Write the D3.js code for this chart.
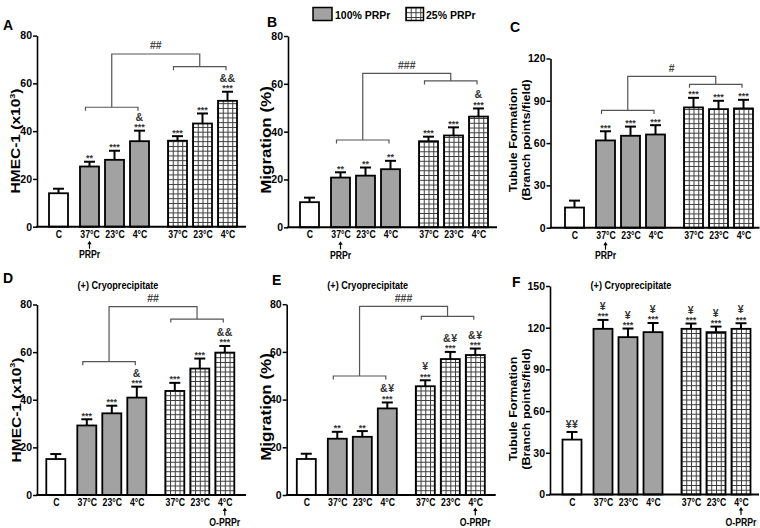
<!DOCTYPE html>
<html><head><meta charset="utf-8">
<script src="https://cdn.jsdelivr.net/npm/d3@7"></script>
<style>
body{margin:0;background:#fff}
text{font-family:"Liberation Sans",Arial,Helvetica,sans-serif;font-weight:bold}
</style>
</head><body>
<svg id="chart" width="760" height="528"></svg>
<script>
// ---------------- data ----------------
const categories = ["C","37°C","23°C","4°C","37°C","23°C","4°C"];
const groups = ["ctrl","p100","p100","p100","p25","p25","p25"];
const legendLabels = ["100% PRPr","25% PRPr"];
const ticksHMEC = [0,20,40,60,80];
const ticksMig = [0,20,40,60,80];
const ticksTubC = [0,30,60,90,120];
const ticksTubF = [0,30,60,90,120,150];

const valuesA = [14.0, 25.2, 28.0, 35.8, 36.0, 43.2, 52.7];
const errorsA = [1.9, 2.0, 3.8, 4.4, 1.9, 4.2, 3.8];
const starsA  = ["", "**", "***", "***", "***", "***", "***"];
const symsA   = ["", "", "", "&", "", "", "&&"];
const bracketA = ["##", 50, 67, 72.3];

const valuesB = [10.5, 20.8, 21.6, 24.3, 36.0, 38.4, 46.3];
const errorsB = [1.9, 2.2, 3.4, 3.5, 1.9, 3.4, 3.4];
const starsB  = ["", "**", "**", "**", "***", "***", "***"];
const symsB   = ["", "", "", "", "", "", "&"];
const bracketB = ["###", 36.5, 61.2, 64.4];

const valuesC = [14.3, 61.9, 65.2, 66.1, 85.3, 84.1, 84.6];
const errorsC = [4.9, 6.5, 6.5, 6.6, 6.8, 5.9, 6.1];
const starsC  = ["", "***", "***", "***", "***", "***", "***"];
const symsC   = ["", "", "", "", "", "", ""];
const bracketC = ["#", 83.2, 101.7, 107.3];

const valuesD = [15.1, 29.2, 34.3, 40.9, 43.7, 53.1, 59.8];
const errorsD = [2.1, 2.6, 3.2, 4.6, 3.4, 4.2, 2.8];
const starsD  = ["", "***", "***", "***", "***", "***", "***"];
const symsD   = ["", "", "", "&", "", "", "&&"];
const bracketD = ["##", 56, 73.9, 79.1];

const valuesE = [15.1, 23.6, 24.4, 36.3, 45.6, 57.0, 58.7];
const errorsE = [2.2, 2.9, 2.4, 2.5, 2.5, 3.0, 2.7];
const starsE  = ["", "**", "**", "***", "***", "***", "***"];
const symsE   = ["", "", "", "&¥", "¥", "&¥", "&¥"];
const bracketE = ["###", 49.9, 74.9, 79.1];

const valuesF = [39.5, 119.2, 113.2, 116.8, 119.2, 116.8, 119.2];
const errorsF = [5.5, 6.4, 6.2, 6.6, 3.8, 4.0, 4.0];
const starsF  = ["", "***", "***", "***", "***", "***", "***"];
const symsF   = ["¥¥", "¥", "¥", "¥", "¥", "¥", "¥"];
const bracketF = null;

// ---------------- layout ----------------
const SX = 0.87;
const svg = d3.select("#chart");
const defs = svg.append("defs");

const panels = [
  {key:"A", v:valuesA, e:errorsA, s:starsA, m:symsA, br:bracketA, ticks:ticksHMEC, yMax:80,
   x0:37, c0:21.5, yb:226.7, yt:35.6, letter:[3,30], title:["HMEC-1 (x10","3",")"], tfs:15.5, tx:[20.3], ty:141, note:"PRPr", noteIdx:1, top:true},
  {key:"B", v:valuesB, e:errorsB, s:starsB, m:symsB, br:bracketB, ticks:ticksMig, yMax:80,
   x0:288, c0:21.5, yb:227.3, yt:36, letter:[267,27], title:["Migration (%)"], tfs:17, tx:[271.3], ty:140, note:"PRPr", noteIdx:1, top:true},
  {key:"C", v:valuesC, e:errorsC, s:starsC, m:symsC, br:bracketC, ticks:ticksTubC, yMax:120,
   x0:550.5, c0:24, yb:227.7, yt:58.5, letter:[510,32], title:["Tubule Formation","(Branch points/field)"], tfs:12.5, tx:[517,530], ty:140, note:"PRPr", noteIdx:1, top:true},
  {key:"D", v:valuesD, e:errorsD, s:starsD, m:symsD, br:bracketD, ticks:ticksHMEC, yMax:80,
   x0:37, c0:18.8, yb:495, yt:304.5, letter:[3,283], title:["HMEC-1 (x10","3",")"], tfs:15.5, tx:[20.5], ty:410, note:"O-PRPr", noteIdx:6, top:false},
  {key:"E", v:valuesE, e:errorsE, s:starsE, m:symsE, br:bracketE, ticks:ticksMig, yMax:80,
   x0:286.7, c0:19.6, yb:495, yt:304.2, letter:[272,285], title:["Migration (%)"], tfs:17, tx:[271], ty:407, note:"O-PRPr", noteIdx:6, top:false},
  {key:"F", v:valuesF, e:errorsF, s:starsF, m:symsF, br:bracketF, ticks:ticksTubF, yMax:150,
   x0:550, c0:22, yb:494.5, yt:286, letter:[512,287], title:["Tubule Formation","(Branch points/field)"], tfs:12.5, tx:[517,530], ty:409, note:"O-PRPr", noteIdx:6, top:false}
];

const slot = i => i === 0 ? 0 : (i <= 3 ? i + 0.24 : i + 0.76);
const BW = 19, CELL = 4.75;
const GRAY = "#a2a2a2";

function makeHatch(id, x, y){
  const p = defs.append("pattern").attr("id", id).attr("patternUnits","userSpaceOnUse")
    .attr("x", x).attr("y", y).attr("width", CELL).attr("height", CELL);
  p.append("rect").attr("width", CELL).attr("height", CELL).attr("fill","#fff");
  p.append("path").attr("d", `M0,0.5H${CELL}M0.5,0V${CELL}`).attr("stroke","#3a3a3a").attr("stroke-width",1);
}

function label(g, x, y, str, size, opts={}){
  return g.append("text")
    .attr("transform", `translate(${x},${y}) scale(${opts.sx ?? SX},1)`)
    .attr("text-anchor", opts.anchor || "middle")
    .attr("fill", opts.fill || "#000")
    .style("font-size", size + "px")
    .text(str);
}

panels.forEach(P => {
  const g = svg.append("g");
  const y = d3.scaleLinear().domain([0, P.yMax]).range([P.yb, P.yt]);
  const xs = d3.scaleLinear().domain([0, slot(6)]).range([P.x0 + P.c0, P.x0 + P.c0 + 169]);
  const idx = d3.range(categories.length);

  // bars
  idx.forEach(i => {
    const cx = xs(slot(i));
    const left = cx - BW/2;
    let fill = "#fff";
    if (groups[i] === "p100") fill = GRAY;
    if (groups[i] === "p25") { const id = `h${P.key}${i}`; makeHatch(id, left, P.yb); fill = `url(#${id})`; }
    g.append("rect").attr("x", left).attr("y", y(P.v[i])).attr("width", BW)
      .attr("height", y(0) - y(P.v[i])).attr("fill", fill)
      .attr("stroke", "#000").attr("stroke-width", 1.8);
    // error bars
    const et = y(P.v[i] + P.e[i]);
    g.append("line").attr("x1", cx).attr("x2", cx).attr("y1", y(P.v[i])).attr("y2", et)
      .attr("stroke","#000").attr("stroke-width",2);
    g.append("line").attr("x1", cx - 5.5).attr("x2", cx + 5.5).attr("y1", et).attr("y2", et)
      .attr("stroke","#000").attr("stroke-width",2);
    // annotations
    if (P.s[i]) label(g, cx, et - 0.5, P.s[i], 9, {fill:"#333", sx:1});
    if (P.m[i]) label(g, cx, et - (P.s[i] ? 10 : 4), P.m[i], 10.5, {fill:"#333", sx:1}).attr("letter-spacing", 0.5);
  });

  // y axis
  const ya = g.append("g").attr("transform", `translate(${P.x0},0)`)
    .call(d3.axisLeft(y).tickValues(P.ticks).tickSize(4).tickSizeOuter(0).tickPadding(1));
  ya.select(".domain").attr("stroke-width", 1.6);
  ya.selectAll(".tick line").attr("stroke-width", 1.5);
  ya.selectAll("text").style("font-size", "10.5px").style("font-family", "'Liberation Sans',Arial,sans-serif").style("font-weight","bold");

  // x axis
  const xa = g.append("g").attr("transform", `translate(0,${P.yb})`)
    .call(d3.axisBottom(xs).tickValues(idx.map(slot)).tickFormat((d, i) => categories[i]).tickSize(0).tickPadding(4));
  xa.select(".domain").remove();
  xa.selectAll("text").style("font-size","10px").style("font-family","'Liberation Sans',Arial,sans-serif")
    .style("font-weight","bold").attr("transform", `scale(${SX},1)`);
  g.append("line").attr("x1", P.x0 - 0.8).attr("x2", P.x0 + 209).attr("y1", P.yb).attr("y2", P.yb)
    .attr("stroke","#000").attr("stroke-width",2);

  // arrow + note
  const ax = xs(slot(P.noteIdx));
  const a0 = P.top ? 14 : 12.5, a1 = P.top ? 22 : 20.5;
  g.append("path").attr("d", `M${ax},${P.yb + a1}V${P.yb + a0 + 2}`).attr("stroke","#000").attr("stroke-width",1.2);
  g.append("path").attr("d", `M${ax - 2.2},${P.yb + a0 + 3.5}L${ax},${P.yb + a0}L${ax + 2.2},${P.yb + a0 + 3.5}Z`).attr("fill","#000");
  label(g, ax, P.yb + (P.top ? 31.5 : 31), P.note, 10);

  // brackets
  if (P.br) {
    const [lab, lv, rv, tv] = P.br;
    const xa1 = xs(slot(1)) - 4, xb1 = xs(slot(3)) - 1.5;
    const xa2 = xs(slot(4)) - 4, xb2 = xs(slot(6)) - 1.5;
    const m1 = (xa1 + xb1) / 2, m2 = (xa2 + xb2) / 2;
    const st = {stroke:"#555", "stroke-width":1.2, fill:"none"};
    const bp = [
      `M${xa1},${y(lv) + 3.5}V${y(lv)}H${xb1}V${y(lv) + 3.5}`,
      `M${xa2},${y(rv) + 3.5}V${y(rv)}H${xb2}V${y(rv) + 3.5}`,
      `M${m1},${y(lv)}V${y(tv)}H${m2}V${y(rv)}`
    ];
    bp.forEach(d => { const p = g.append("path").attr("d", d); Object.entries(st).forEach(([k, v]) => p.attr(k, v)); });
    label(g, (m1 + m2) / 2, y(tv) - 4.5, lab, 10.5, {fill:"#444", sx:1});
  }

  // panel letter
  label(g, P.letter[0], P.letter[1], P.key, 14, {anchor:"start", sx:1});

  // cryo title
  if (!P.top) label(g, P.x0 + 81, 289, "(+) Cryoprecipitate", 10.5);

  // y title
  if (P.title.length === 3) {
    const t = g.append("text")
      .attr("transform", `translate(${P.tx[0]},${P.ty}) scale(${SX},1) rotate(-90)`)
      .attr("text-anchor","middle").style("font-size", P.tfs + "px");
    t.append("tspan").text(P.title[0]);
    t.append("tspan").attr("dy", -6).style("font-size","9px").text(P.title[1]);
    t.append("tspan").attr("dy", 6).text(P.title[2]);
  } else {
    P.title.forEach((tt, k) => {
      g.append("text")
        .attr("transform", `translate(${P.tx[k]},${P.ty}) scale(${SX},1) rotate(-90)`)
        .attr("text-anchor","middle").style("font-size", P.tfs + "px").text(tt);
    });
  }
});

// legend
const lg = svg.append("g");
lg.append("rect").attr("x", 313).attr("y", 7.5).attr("width", 19).attr("height", 13)
  .attr("fill", GRAY).attr("stroke","#000").attr("stroke-width",1.5);
makeHatch("hleg", 406, 7.5);
lg.append("rect").attr("x", 406).attr("y", 7.5).attr("width", 17.5).attr("height", 13)
  .attr("fill","url(#hleg)").attr("stroke","#000").attr("stroke-width",1.5);
label(lg, 335, 18.5, legendLabels[0], 10.5, {anchor:"start", sx:1});
label(lg, 426, 18.5, legendLabels[1], 10.5, {anchor:"start", sx:1});
</script>
</body></html>
